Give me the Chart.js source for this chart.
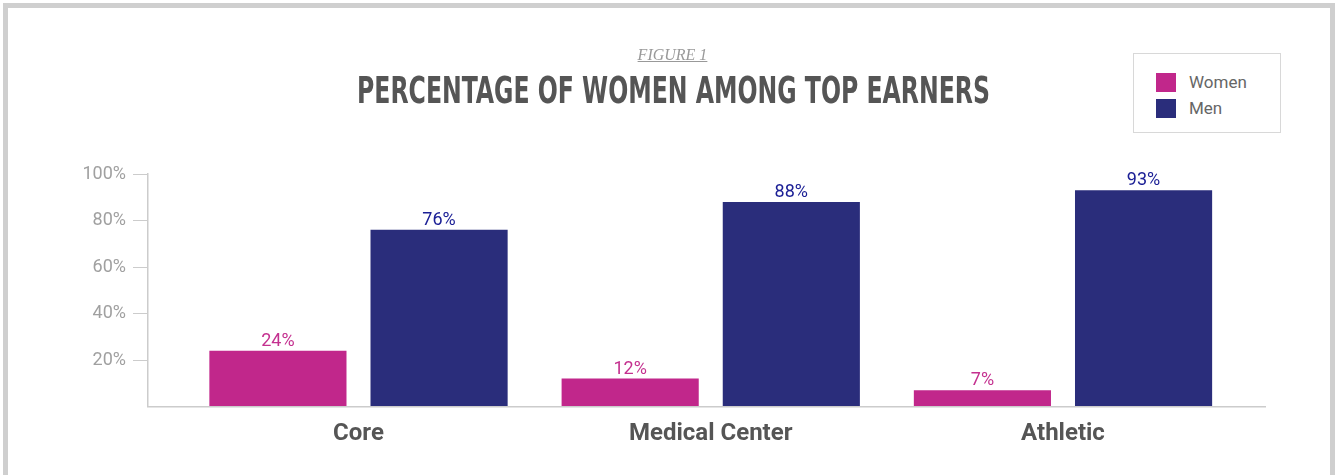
<!DOCTYPE html>
<html>
<head>
<meta charset="utf-8">
<script src="https://cdn.jsdelivr.net/npm/chart.js@4"></script>
<style>
  html, body { margin: 0; padding: 0; background: #fff; }
  body { width: 1335px; height: 475px; position: relative; overflow: hidden; }
  #frame {
    position: absolute; left: 3px; top: 3px; width: 1322px; height: 470px;
    border: 5px solid #cfcfcf; border-bottom: none;
  }
  #chartWrap { position: absolute; left: 0; top: 0; width: 1335px; height: 475px; }
  #figure {
    position: absolute; left: 0; width: 1345px; top: 46px; text-align: center;
    font-family: "Liberation Serif", serif; font-style: italic; font-size: 16px;
    color: #999; text-decoration: underline;
  }
  #title {
    position: absolute; top: 69px; left: 357px; white-space: nowrap;
    font-family: "DejaVu Sans Condensed", "DejaVu Sans", sans-serif; font-weight: bold;
    font-size: 37px; color: #555; transform-origin: 0 0; line-height: 44px;
  }
  #legend {
    position: absolute; left: 1133px; top: 53px; width: 146px; height: 78px;
    border: 1px solid #d8d8d8; background: #fff;
    font-family: Roboto, sans-serif; font-size: 17px; color: #666;
  }
  .item { position: absolute; left: 22px; height: 20px; line-height: 20px; }
  .item span.sw { position: absolute; left: 0; top: 0; width: 20px; height: 19px; }
  .item span.lb { position: absolute; left: 33px; top: -1px; white-space: nowrap; }
</style>
</head>
<body>
<div id="frame"></div>
<div id="chartWrap"><canvas id="chart" width="1335" height="475"></canvas></div>
<div id="figure">FIGURE 1</div>
<div id="title">PERCENTAGE OF WOMEN AMONG TOP EARNERS</div>
<div id="legend"></div>
<script>
// categories and values
const categories = ['Core', 'Medical Center', 'Athletic'];
const women = [24, 12, 7];
const men = [76, 88, 93];
const seriesNames = ['Women', 'Men'];
const barColors = ['#c1278b', '#2a2d7b'];
const labelColors = ['#c4308f', '#1c2096'];

// squeeze the title to its width in the figure
const title = document.getElementById('title');
const w = title.getBoundingClientRect().width;
title.style.transform = 'scaleX(' + (633 / w) + ')';

// value labels above each bar
const barLabels = {
  id: 'barLabels',
  afterDatasetsDraw(chart) {
    const ctx = chart.ctx;
    ctx.save();
    ctx.font = '18px Roboto, sans-serif';
    ctx.textAlign = 'center';
    ctx.textBaseline = 'alphabetic';
    chart.data.datasets.forEach((ds, di) => {
      const meta = chart.getDatasetMeta(di);
      ctx.fillStyle = labelColors[di];
      meta.data.forEach((bar, i) => {
        ctx.fillText(ds.data[i].y + '%', bar.x, bar.y - 5);
      });
    });
    ctx.restore();
  }
};

function points(values) {
  return values.map((v, i) => ({ x: i, y: v }));
}

const chart = new Chart(document.getElementById('chart'), {
  type: 'bar',
  data: {
    datasets: [
      { label: seriesNames[0], data: points(women), backgroundColor: barColors[0] },
      { label: seriesNames[1], data: points(men), backgroundColor: barColors[1] }
    ]
  },
  options: {
    responsive: false,
    animation: false,
    categoryPercentage: 0.915,
    barPercentage: 0.851,
    layout: { padding: { left: 0, right: 70, top: 174, bottom: 0 } },
    plugins: {
      legend: { display: false },
      tooltip: { enabled: false }
    },
    scales: {
      x: {
        type: 'linear',
        offset: false,
        min: -0.5976,
        max: 2.5735,
        afterBuildTicks(scale) {
          scale.ticks = categories.map((c, i) => ({ value: i }));
        },
        afterFit(scale) { scale.height = 68.5; },
        grid: { drawOnChartArea: false, drawTicks: false, offset: false },
        border: { color: '#cccccc', width: 1.5 },
        ticks: {
          padding: 13,
          color: '#555',
          font: { family: 'Roboto', size: 24, weight: 'bold' },
          callback: v => categories[v]
        }
      },
      y: {
        min: 0,
        max: 100,
        afterFit(scale) { scale.width = 148; },
        grid: {
          drawOnChartArea: false,
          drawTicks: true,
          tickLength: 15,
          color: c => (c.tick && c.tick.value === 0) ? 'rgba(0,0,0,0)' : '#cccccc'
        },
        border: { color: '#cccccc', width: 1.5 },
        ticks: {
          stepSize: 10,
          padding: 7,
          color: '#a0a0a0',
          font: { family: 'Roboto', size: 18 },
          callback: v => (v > 0 && v % 20 === 0) ? v + '%' : ''
        }
      }
    }
  },
  plugins: [barLabels]
});

// legend box built from the datasets
const legend = document.getElementById('legend');
chart.data.datasets.forEach((ds, i) => {
  const item = document.createElement('div');
  item.className = 'item';
  item.style.top = (19 + i * 26) + 'px';
  item.innerHTML = '<span class="sw" style="background:' + ds.backgroundColor + '"></span>' +
    '<span class="lb">' + ds.label + '</span>';
  legend.appendChild(item);
});
</script>
</body>
</html>
